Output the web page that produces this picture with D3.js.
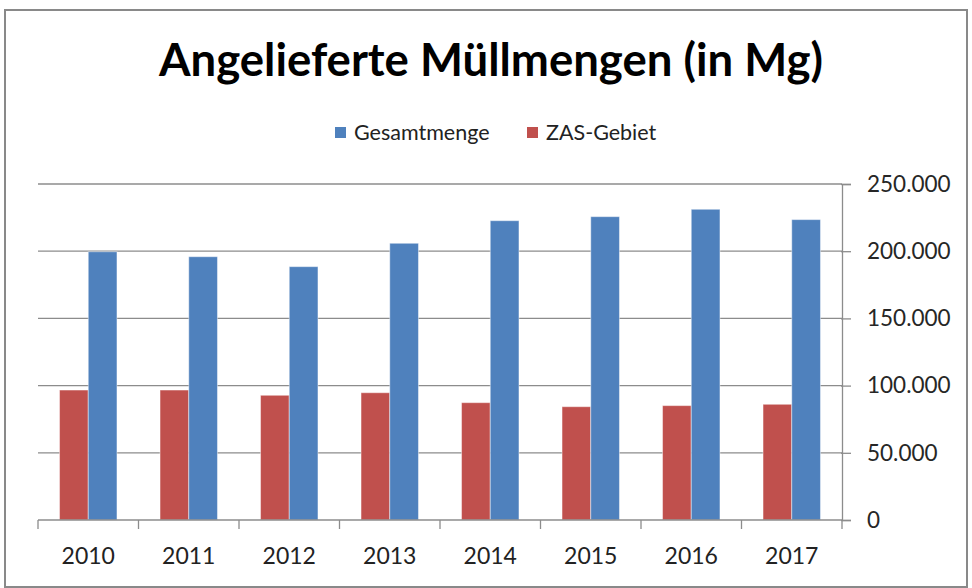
<!DOCTYPE html>
<html>
<head>
<meta charset="utf-8">
<script src="https://cdn.jsdelivr.net/npm/d3@7"></script>
<style>
    body { margin: 0; background: #fff; }
    svg { display: block; }
    text { font-family: Lato, "Open Sans", sans-serif; fill: #262626; }
</style>
</head>
<body>
<script>
// chart data
const years = ["2010", "2011", "2012", "2013", "2014", "2015", "2016", "2017"];
const gesamtmenge = [199600, 195900, 188500, 205900, 222700, 225700, 231200, 223500];
const zasGebiet = [96700, 96700, 92800, 94700, 87300, 84300, 85100, 86100];
const yTicks = [0, 50000, 100000, 150000, 200000, 250000];

const width = 972;
const height = 588;
const plot = {left: 38, right: 842, top: 184, bottom: 520};
const blue = "#4f81bd";
const red = "#c0504d";
const gridColor = "#8c8c8c";

const svg = d3.select("body").append("svg")
    .attr("width", width)
    .attr("height", height);

// outer chart border
svg.append("rect")
    .attr("x", 5).attr("y", 10)
    .attr("width", 962).attr("height", 577)
    .attr("fill", "#fff")
    .attr("stroke", "#898989")
    .attr("stroke-width", 2);

const de = d3.formatLocale({decimal: ",", thousands: ".", grouping: [3], currency: ["", "€"]});
const fmt = de.format(",d");

const x = d3.scaleBand().domain(years).range([plot.left, plot.right]).padding(0);
const y = d3.scaleLinear().domain([0, 250000]).range([plot.bottom, plot.top]);

// Excel style clustered bars: gap width 150%
const barW = x.bandwidth() / 3.5;
const series = [
    {name: "ZAS-Gebiet", values: zasGebiet, color: red},
    {name: "Gesamtmenge", values: gesamtmenge, color: blue}
];
const xs = d3.scaleBand().domain(series.map((s) => s.name))
    .range([0.75 * barW, 2.75 * barW]);

//gridlines
svg.append("g").selectAll("line")
    .data(yTicks.slice(1))
    .enter().append("line")
    .attr("x1", plot.left).attr("x2", plot.right)
    .attr("y1", (d) => y(d)).attr("y2", (d) => y(d))
    .attr("stroke", gridColor)
    .attr("stroke-width", 1.3);

// bars
series.forEach((s) => {
    svg.append("g").selectAll("rect")
        .data(s.values)
        .enter().append("rect")
        .attr("x", (d, i) => x(years[i]) + xs(s.name))
        .attr("y", (d) => y(d))
        .attr("width", xs.bandwidth())
        .attr("height", (d) => y(0) - y(d))
        .attr("fill", s.color)
        .attr("stroke", "rgba(255,255,255,0.45)")
        .attr("stroke-width", 1);
});

// right value axis
const yAxis = d3.axisRight(y).tickValues(yTicks).tickFormat(fmt).tickSize(9).tickPadding(16);
const gy = svg.append("g").attr("transform", `translate(${plot.right},0)`).call(yAxis);
gy.select(".domain").attr("stroke", gridColor).attr("stroke-width", 1.3);
gy.selectAll(".tick line").attr("stroke", gridColor).attr("stroke-width", 1.3)
    .attr("x1", -1);
gy.selectAll(".tick text")
    .attr("font-size", 22.5)
    .attr("font-family", "Lato, sans-serif")
    .attr("fill", "#222");

// category axis
const gx = svg.append("g").attr("transform", `translate(0,${plot.bottom})`);
gx.append("line")
    .attr("x1", plot.left).attr("x2", plot.right)
    .attr("stroke", gridColor).attr("stroke-width", 1.3);
gx.selectAll("line.tick")
    .data(years.concat(["end"]))
    .enter().append("line")
    .attr("class", "tick")
    .attr("x1", (d, i) => plot.left + i * x.bandwidth())
    .attr("x2", (d, i) => plot.left + i * x.bandwidth())
    .attr("y1", 0).attr("y2", 9)
    .attr("stroke", gridColor).attr("stroke-width", 1.3);
gx.selectAll("text")
    .data(years)
    .enter().append("text")
    .attr("x", (d) => x(d) + x.bandwidth() / 2)
    .attr("y", 44)
    .attr("text-anchor", "middle")
    .attr("font-size", 23)
    .style("fill", "#222")
    .text((d) => d);

// title
svg.append("text")
    .attr("x", 491)
    .attr("y", 76)
    .attr("text-anchor", "middle")
    .attr("font-size", 45.5)
    .attr("font-weight", "bold")
    .style("fill", "#000")
    .text("Angelieferte Müllmengen (in Mg)");

// legend
const legendItems = [
    {name: "Gesamtmenge", color: blue, x: 335},
    {name: "ZAS-Gebiet", color: red, x: 527}
];
const lg = svg.append("g");
legendItems.forEach((d) => {
    lg.append("rect")
        .attr("x", d.x).attr("y", 127)
        .attr("width", 11).attr("height", 11)
        .attr("fill", d.color);
    lg.append("text")
        .attr("x", d.x + 19)
        .attr("y", 139.5)
        .attr("font-size", 21.5)
        .style("fill", "#222")
        .text(d.name);
});
</script>
</body>
</html>
